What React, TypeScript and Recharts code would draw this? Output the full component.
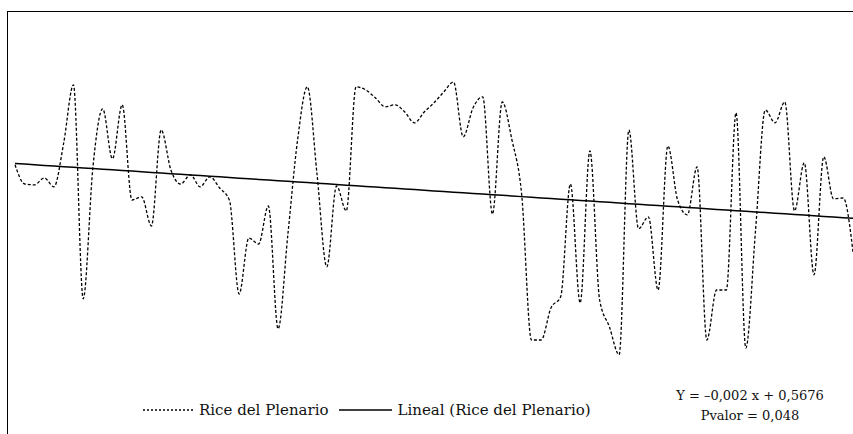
import React from "react";
import { LineChart, Line, XAxis, YAxis } from "recharts";

// Rice index per session
const riceValues = [
  0.588, 0.54, 0.538, 0.555, 0.533, 0.643, 0.788, 0.253, 0.583, 0.728,
  0.603, 0.738, 0.5, 0.508, 0.435, 0.675, 0.575, 0.54, 0.563, 0.533,
  0.558, 0.53, 0.5, 0.265, 0.405, 0.39, 0.485, 0.178, 0.413, 0.65,
  0.783, 0.563, 0.333, 0.535, 0.473, 0.783, 0.775, 0.755, 0.733, 0.738,
  0.72, 0.693, 0.72, 0.743, 0.77, 0.795, 0.658, 0.73, 0.758, 0.465,
  0.745, 0.65, 0.513, 0.15, 0.15, 0.23, 0.258, 0.54, 0.243, 0.623,
  0.25, 0.183, 0.113, 0.675, 0.428, 0.458, 0.275, 0.635, 0.5, 0.463,
  0.583, 0.15, 0.275, 0.275, 0.718, 0.13, 0.425, 0.725, 0.693, 0.745,
  0.473, 0.593, 0.313, 0.608, 0.503, 0.505, 0.37,
];

const legendLabels = ["Rice del Plenario", "Lineal (Rice del Plenario)"];
const equationText = "Y = \u20130,002 x + 0,5676";
const pvalueText = "Pvalor = 0,048";

// least squares trend line, like the spreadsheet "Lineal" trendline
function linearFit(ys: number[]) {
  const n = ys.length;
  let sx = 0, sy = 0, sxy = 0, sxx = 0;
  ys.forEach((y, i) => {
    const x = i + 1;
    sx += x; sy += y; sxy += x * y; sxx += x * x;
  });
  const b = (n * sxy - sx * sy) / (n * sxx - sx * sx);
  const a = (sy - b * sx) / n;
  return { a, b };
}

const fit = linearFit(riceValues);
const data = riceValues.map((v, i) => ({
  n: i + 1,
  rice: v,
  trend: fit.a + fit.b * (i + 1),
}));

const font = "'DejaVu Serif', 'Liberation Serif', 'Times New Roman', serif";

export default function App() {
  return (
    <div
      style={{
        position: "fixed",
        left: 0,
        top: 0,
        width: 853,
        height: 434,
        overflow: "hidden",
        background: "#fff",
      }}
    >
      <div
        style={{
          position: "absolute",
          left: 7,
          top: 11,
          width: 900,
          height: 500,
          borderTop: "1.5px solid #000",
          borderLeft: "1.5px solid #000",
        }}
      />
      <div style={{ position: "absolute", left: 0, top: 0 }}>
        <LineChart
          width={853}
          height={434}
          data={data}
          margin={{ top: 0, right: 0, bottom: 34, left: 15 }}
        >
          <XAxis dataKey="n" type="number" domain={[1, 87]} hide />
          <YAxis domain={[0, 1]} hide />
          <Line
            type="monotone"
            dataKey="rice"
            stroke="#000"
            strokeWidth={1.3}
            strokeDasharray="3 2"
            dot={false}
            isAnimationActive={false}
          />
          <Line
            type="linear"
            dataKey="trend"
            stroke="#000"
            strokeWidth={1.5}
            dot={false}
            isAnimationActive={false}
          />
        </LineChart>
      </div>

      {/* legend */}
      <div
        style={{
          position: "absolute",
          left: 143,
          top: 401,
          display: "flex",
          alignItems: "center",
          fontFamily: font,
          fontSize: 15,
          color: "#111",
          whiteSpace: "nowrap",
        }}
      >
        <svg width={50} height={4} style={{ marginRight: 6 }}>
          <line x1={0} y1={2} x2={50} y2={2} stroke="#000" strokeWidth={1.3} strokeDasharray="2 2" />
        </svg>
        <span style={{ marginRight: 10 }}>{legendLabels[0]}</span>
        <svg width={53} height={4} style={{ marginRight: 6 }}>
          <line x1={0} y1={2} x2={53} y2={2} stroke="#000" strokeWidth={1.3} />
        </svg>
        <span>{legendLabels[1]}</span>
      </div>

      {/* equation */}
      <div
        style={{
          position: "absolute",
          left: 650,
          width: 200,
          top: 386,
          textAlign: "center",
          fontFamily: font,
          fontSize: 13,
          lineHeight: "20px",
          color: "#111",
        }}
      >
        <div>{equationText}</div>
        <div>{pvalueText}</div>
      </div>
    </div>
  );
}
